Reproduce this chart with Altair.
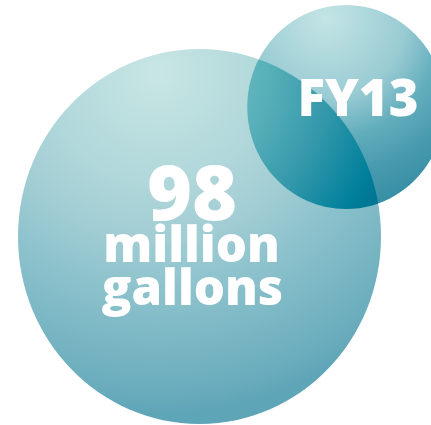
import altair as alt
import pandas as pd

# ---- data ----
bubble_names = ["total", "FY13"]
bubble_x = [199.5, 346.0]
bubble_y = [236.5, 107.0]
bubble_d = [375.0, 204.0]

text_lines = ["98", "million", "gallons", "FY13"]
text_x = [192.0, 191.5, 192.5, 358.0]
text_y = [220.0, 262.0, 305.0, 116.0]
text_size = [77, 49, 49, 51]

bubbles = pd.DataFrame({"name": bubble_names, "x": bubble_x, "y": bubble_y,
                        "size": [d * d for d in bubble_d]})
texts = pd.DataFrame({"label": text_lines, "x": text_x, "y": text_y, "fs": text_size})

W, H = 431, 425
ELLIPSE = ("M0,-1C0.5346,-1,0.968,-0.5523,0.968,0C0.968,0.5523,0.5346,1,0,1"
           "C-0.5346,1,-0.968,0.5523,-0.968,0C-0.968,-0.5523,-0.5346,-1,0,-1Z")

xs = alt.Scale(domain=[0, W], nice=False, zero=False)
ys = alt.Scale(domain=[0, H], nice=False, zero=False, reverse=True)

def grad(fx, fy, r, stops):
    return {"gradient": "radial", "x1": fx, "y1": fy, "r1": 0,
            "x2": fx, "y2": fy, "r2": r,
            "stops": [{"offset": o, "color": c} for o, c in stops]}

big_fill = grad(0.387, 0.064, 0.907, [
    (0.0, "#c8e6e4"), (0.33, "#b0d7da"), (0.5, "#a0ccd3"),
    (0.63, "#8ec3cd"), (0.93, "#6badbd"), (1.0, "#5fa5b8")])
small_fill = grad(0.40, 0.066, 0.98, [
    (0.0, "#e3f2f1"), (0.4, "#cfe5e8"), (0.6, "#b5d6dc"),
    (0.8, "#a8ccd4"), (1.0, "#9fc6cf")])

base = alt.Chart(bubbles).encode(
    x=alt.X("x:Q", scale=xs, axis=None),
    y=alt.Y("y:Q", scale=ys, axis=None),
    size=alt.Size("size:Q", scale=None, legend=None),
)

small_under = base.transform_filter(alt.datum.name == "FY13").mark_point(
    shape=ELLIPSE, filled=True, opacity=1, fill=small_fill, strokeWidth=0)
big = base.transform_filter(alt.datum.name == "total").mark_point(
    shape=ELLIPSE, filled=True, opacity=1, fill=big_fill, strokeWidth=0)
small_burn = base.transform_filter(alt.datum.name == "FY13").mark_point(
    shape=ELLIPSE, filled=True, opacity=1, fill="#787f86", strokeWidth=0,
    blend="color-burn")

labels = alt.Chart(texts).mark_text(
    font="Open Sans", fontWeight=800, color="white",
    align="center", baseline="alphabetic").encode(
    x=alt.X("x:Q", scale=xs, axis=None),
    y=alt.Y("y:Q", scale=ys, axis=None),
    size=alt.Size("fs:Q", scale=None, legend=None),
    text="label:N",
)

chart = alt.layer(small_under, big, small_burn, labels).properties(
    width=W, height=H, padding=0, autosize=alt.AutoSizeParams(type="none"),
    background="white",
).configure_view(stroke=None)

chart.save("out.html", embed_options={"renderer": "svg", "actions": False})
